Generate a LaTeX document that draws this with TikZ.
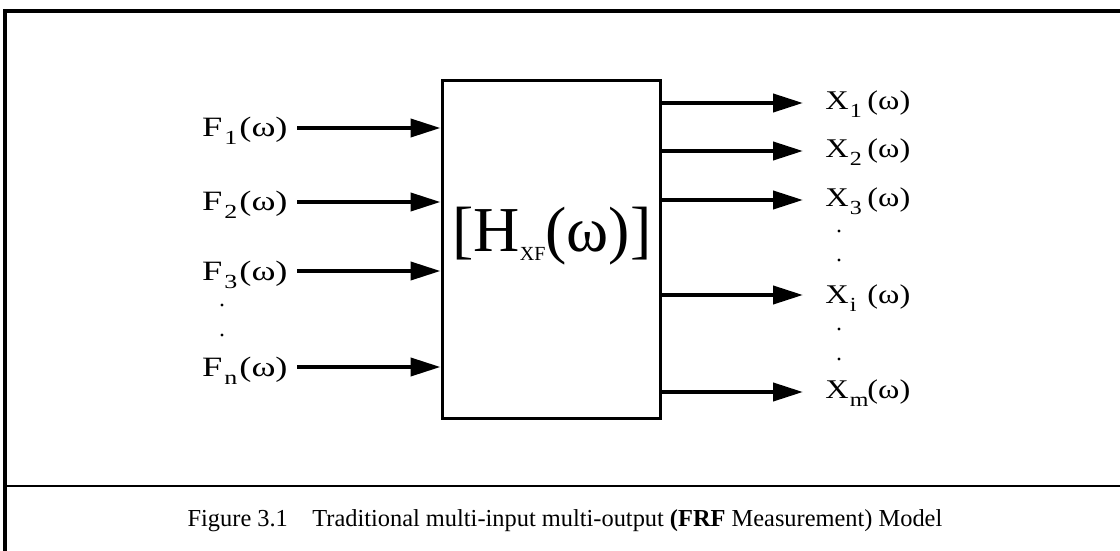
\documentclass[tikz,border=0pt]{standalone}
\usepackage{fontspec}
\setmainfont{Liberation Serif}
\newfontfamily\infont[FakeStretch=1.3]{Liberation Serif}
\newfontfamily\outfont[FakeStretch=1.2]{Liberation Serif}
\usetikzlibrary{arrows.meta,positioning}
\tikzset{
  >={Triangle[length=15pt,width=9pt]},
  frameline/.style={draw=black,line width=2pt},
  sysbox/.style={
    draw=black,
    line width=1.5pt,
    minimum width=109pt,
    minimum height=168.5pt,
    inner sep=0pt
  },
  signal/.style={->,draw=black,line width=2pt},
  inlabel/.style={font=\infont\fontsize{14}{14}\selectfont,inner sep=0pt,text height=9pt,text depth=0pt},
  outlabel/.style={font=\outfont\fontsize{13.5}{13.5}\selectfont,inner sep=0pt,text height=8.7pt,text depth=0pt},
  gapdot/.style={circle,fill=black,inner sep=0pt,minimum size=1.6pt},
  caption/.style={font=\fontsize{12.2}{12.2}\selectfont,inner sep=0pt}
}
\newcommand{\lowsub}[1]{\raisebox{-4pt}{\fontsize{10}{10}\selectfont #1}}
\newcommand{\inname}[1]{F\kern1pt\lowsub{#1}\kern1pt(ω)}
\newcommand{\outname}[1]{\makebox[21pt][l]{X\kern0.5pt\lowsub{#1}}(ω)}

\begin{document}
\begin{tikzpicture}[x=0.5pt,y=-0.5pt]
  \useasboundingbox (0,0) rectangle (1120,551);

  % frame of the figure
  \draw[frameline] (1130,11) -- (4.5,11) -- (4.5,560);
  \draw[frameline,line width=1.2pt] (4.5,486) -- (1130,486);

  % system block
  \node[sysbox] (sys) at (551,249.5) {};
  \node[font=\fontsize{32}{32}\selectfont,inner sep=0pt] (hxf) at (552,236)
    {[H\raisebox{-4.5pt}{\fontsize{10}{10}\selectfont XF}(ω)]};

  % inputs
  \coordinate (i1) at (297,128);
  \coordinate (i2) at (297,202);
  \coordinate (i3) at (297,271);
  \coordinate (in) at (297,367);
  \node[inlabel,left=4.5pt of i1] (F1) {\inname{1}};
  \node[inlabel,left=4.5pt of i2] (F2) {\inname{2}};
  \node[inlabel,left=4.5pt of i3] (F3) {\inname{3}};
  \node[inlabel,left=4.5pt of in] (Fn) {\inname{n}};
  \node[gapdot] (fdot1) at (222,305) {};
  \node[gapdot] (fdot2) at (222,335) {};
  \foreach \k in {i1,i2,i3,in}
    \draw[signal] (\k) -- (\k -| sys.west);

  % outputs
  \coordinate (o1) at (803,103);
  \coordinate (o2) at (803,151);
  \coordinate (o3) at (803,200);
  \coordinate (oi) at (803,295);
  \coordinate (om) at (803,392);
  \node[outlabel,right=11pt of o1,yshift=1pt] (X1) {\outname{1}};
  \node[outlabel,right=11pt of o2,yshift=1pt] (X2) {\outname{2}};
  \node[outlabel,right=11pt of o3,yshift=1pt] (X3) {\outname{3}};
  \node[outlabel,right=11pt of oi,yshift=0pt] (Xi) {\outname{i}};
  \node[outlabel,right=11pt of om,yshift=1pt] (Xm) {\outname{m}};
  \node[gapdot] (xdot1) at (839,231) {};
  \node[gapdot] (xdot2) at (839,260) {};
  \node[gapdot] (xdot3) at (839,329) {};
  \node[gapdot] (xdot4) at (839,359) {};
  \foreach \k in {o1,o2,o3,oi,om}
    \draw[signal] (\k -| sys.east) -- (\k);

  % caption
  \node[caption] (cap) at (565,521)
    {Figure 3.1\quad Traditional multi-input multi-output \textbf{(FRF} Measurement) Model};

\end{tikzpicture}
\end{document}
